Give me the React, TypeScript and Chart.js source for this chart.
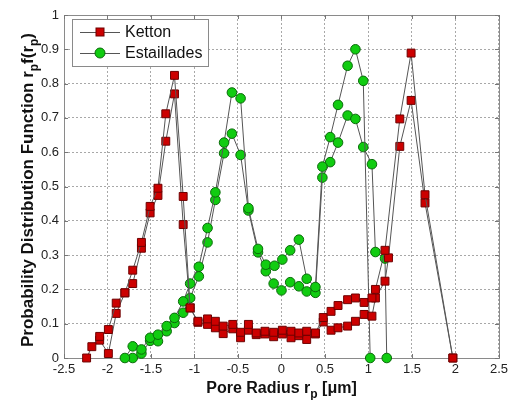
import React, { useEffect, useRef } from "react";
import { Chart, registerables } from "chart.js";

Chart.register(...registerables);

const xTickValues = [-2.5, -2, -1.5, -1, -0.5, 0, 0.5, 1, 1.5, 2, 2.5];
const yTickValues = [0, 0.1, 0.2, 0.3, 0.4, 0.5, 0.6, 0.7, 0.8, 0.9, 1];

const seriesNames = ["Ketton", "Estaillades"];

const kettonRun1X = [-2.24, -2.18, -2.09, -1.99, -1.9, -1.8, -1.71, -1.61, -1.51, -1.42, -1.33, -1.23, -1.13, -1.05, -0.96, -0.85, -0.76, -0.67, -0.56, -0.47, -0.38, -0.29, -0.19, -0.09, 0.01, 0.11, 0.2, 0.29, 0.39, 0.48, 0.57, 0.65, 0.76, 0.85, 0.95, 1.04, 1.08, 1.19, 1.36, 1.49, 1.65, 1.97];
const kettonRun1Y = [0, 0.033, 0.063, 0.083, 0.16, 0.19, 0.256, 0.337, 0.442, 0.495, 0.712, 0.824, 0.471, 0.146, 0.107, 0.114, 0.107, 0.093, 0.098, 0.075, 0.098, 0.073, 0.078, 0.075, 0.081, 0.078, 0.073, 0.078, 0.073, 0.118, 0.136, 0.153, 0.17, 0.175, 0.162, 0.175, 0.2, 0.314, 0.697, 0.889, 0.476, 0];

const kettonRun2X = [-2.09, -1.99, -1.9, -1.8, -1.71, -1.61, -1.51, -1.42, -1.33, -1.23, -1.13, -1.05, -0.96, -0.85, -0.76, -0.67, -0.56, -0.47, -0.38, -0.29, -0.19, -0.09, 0.01, 0.11, 0.2, 0.29, 0.39, 0.48, 0.57, 0.65, 0.76, 0.85, 0.95, 1.04, 1.08, 1.19, 1.23, 1.36, 1.49, 1.65, 1.97];
const kettonRun2Y = [0.052, 0.013, 0.13, 0.19, 0.217, 0.32, 0.423, 0.474, 0.632, 0.77, 0.389, 0.146, 0.104, 0.098, 0.088, 0.071, 0.085, 0.059, 0.081, 0.068, 0.07, 0.062, 0.07, 0.059, 0.065, 0.054, 0.07, 0.105, 0.081, 0.088, 0.093, 0.107, 0.127, 0.122, 0.175, 0.224, 0.292, 0.617, 0.751, 0.452, 0];

const estailladesRun1X = [-1.8, -1.71, -1.61, -1.51, -1.42, -1.32, -1.23, -1.13, -1.05, -0.95, -0.85, -0.76, -0.66, -0.57, -0.47, -0.38, -0.27, -0.18, -0.08, 0.01, 0.1, 0.2, 0.29, 0.39, 0.47, 0.56, 0.65, 0.76, 0.85, 0.94, 1.02];
const estailladesRun1Y = [0, 0.034, 0.025, 0.059, 0.068, 0.093, 0.117, 0.165, 0.217, 0.266, 0.379, 0.483, 0.628, 0.774, 0.757, 0.437, 0.318, 0.272, 0.269, 0.287, 0.314, 0.345, 0.231, 0.207, 0.558, 0.644, 0.738, 0.852, 0.9, 0.808, 0];

const estailladesRun2X = [-1.71, -1.61, -1.51, -1.42, -1.32, -1.23, -1.13, -1.05, -0.95, -0.85, -0.76, -0.66, -0.57, -0.47, -0.38, -0.27, -0.18, -0.09, 0.0, 0.1, 0.2, 0.29, 0.39, 0.47, 0.56, 0.65, 0.76, 0.85, 0.94, 1.04, 1.08, 1.19, 1.21];
const estailladesRun2Y = [0, 0.013, 0.05, 0.049, 0.078, 0.102, 0.132, 0.175, 0.238, 0.337, 0.461, 0.597, 0.654, 0.592, 0.43, 0.308, 0.253, 0.217, 0.197, 0.221, 0.209, 0.194, 0.19, 0.526, 0.571, 0.628, 0.707, 0.697, 0.615, 0.565, 0.309, 0.29, 0];

const FONT = '"Liberation Sans", Arial, Helvetica, sans-serif';

const KET_FILL = "#cc0000";
const KET_EDGE = "#6e0000";
const EST_FILL = "#11cc11";
const EST_EDGE = "#0a6a0a";
const LINE = "#555555";

function pts(xs: number[], ys: number[]) {
  return xs.map((x, i) => ({ x, y: ys[i] }));
}

type Part = { t: string; sub?: boolean };

function drawRich(ctx: CanvasRenderingContext2D, parts: Part[], x: number, y: number, size: number) {
  const base = `bold ${size}px ${FONT}`;
  const subSize = Math.round(size * 0.72);
  const sub = `bold ${subSize}px ${FONT}`;
  let total = 0;
  for (const p of parts) {
    ctx.font = p.sub ? sub : base;
    total += ctx.measureText(p.t).width;
  }
  let cx = x - total / 2;
  ctx.textAlign = "left";
  ctx.textBaseline = "alphabetic";
  for (const p of parts) {
    ctx.font = p.sub ? sub : base;
    ctx.fillText(p.t, cx, y + (p.sub ? size * 0.3 : 0));
    cx += ctx.measureText(p.t).width;
  }
}

const framePlugin = {
  id: "frame",
  beforeDatasetsDraw(chart: any) {
    const { ctx, chartArea: a, scales } = chart;
    ctx.save();
    ctx.strokeStyle = "#8a8a8a";
    ctx.lineWidth = 1;
    ctx.strokeRect(Math.round(a.left) + 0.5, Math.round(a.top) + 0.5, Math.round(a.right - a.left), Math.round(a.bottom - a.top));
    ctx.strokeStyle = "#777";
    ctx.beginPath();
    for (const v of xTickValues) {
      const px = Math.round(scales.x.getPixelForValue(v)) + 0.5;
      ctx.moveTo(px, a.bottom);
      ctx.lineTo(px, a.bottom - 4);
      ctx.moveTo(px, a.top);
      ctx.lineTo(px, a.top + 4);
    }
    for (const v of yTickValues) {
      const py = Math.round(scales.y.getPixelForValue(v)) + 0.5;
      ctx.moveTo(a.left, py);
      ctx.lineTo(a.left + 4, py);
      ctx.moveTo(a.right, py);
      ctx.lineTo(a.right - 4, py);
    }
    ctx.stroke();
    ctx.restore();
  },
  afterDatasetsDraw(chart: any) {
    const { ctx } = chart;
    ctx.save();
    const bx = 72, by = 19, bw = 136, bh = 47;
    ctx.fillStyle = "#ffffff";
    ctx.fillRect(bx, by, bw, bh);
    ctx.strokeStyle = "#8a8a8a";
    ctx.lineWidth = 1;
    ctx.strokeRect(bx + 0.5, by + 0.5, bw, bh);
    const rows = [
      { name: seriesNames[0], y: 32, kind: "rect" },
      { name: seriesNames[1], y: 53, kind: "circle" },
    ];
    for (const r of rows) {
      ctx.strokeStyle = LINE;
      ctx.lineWidth = 1;
      ctx.beginPath();
      ctx.moveTo(80, r.y + 0.5);
      ctx.lineTo(120, r.y + 0.5);
      ctx.stroke();
      if (r.kind === "rect") {
        ctx.fillStyle = KET_FILL;
        ctx.strokeStyle = KET_EDGE;
        ctx.fillRect(96, r.y - 4, 8, 8);
        ctx.strokeRect(96, r.y - 4, 8, 8);
      } else {
        ctx.fillStyle = EST_FILL;
        ctx.strokeStyle = EST_EDGE;
        ctx.beginPath();
        ctx.arc(100, r.y, 5, 0, Math.PI * 2);
        ctx.fill();
        ctx.stroke();
      }
      ctx.fillStyle = "#111";
      ctx.font = `16px ${FONT}`;
      ctx.textAlign = "left";
      ctx.textBaseline = "middle";
      ctx.fillText(r.name, 125, r.y + 1);
    }
    ctx.restore();
  },
  afterDraw(chart: any) {
    const { ctx, chartArea: a } = chart;
    ctx.save();
    ctx.fillStyle = "#111";
    drawRich(ctx, [{ t: "Pore Radius r" }, { t: "p", sub: true }, { t: " [μm]" }], (a.left + a.right) / 2, 393, 16);
    ctx.translate(33, 190);
    ctx.rotate(-Math.PI / 2);
    drawRich(
      ctx,
      [
        { t: "Probability Distribution Function r" },
        { t: "p", sub: true },
        { t: "f(r" },
        { t: "p", sub: true },
        { t: ")" },
      ],
      0,
      0,
      17
    );
    ctx.restore();
  },
};

export default function App() {
  const ref = useRef<HTMLCanvasElement | null>(null);

  useEffect(() => {
    if (!ref.current) return;
    const common = {
      showLine: true,
      borderColor: LINE,
      borderWidth: 1,
      pointBorderWidth: 1,
      clip: false as any,
      tension: 0,
    };
    const chart = new Chart(ref.current, {
      type: "scatter",
      data: {
        datasets: [
          { ...common, label: seriesNames[0], data: pts(kettonRun1X, kettonRun1Y), pointStyle: "rect", pointRadius: 5.6, pointBackgroundColor: KET_FILL, pointBorderColor: KET_EDGE, order: 1 },
          { ...common, label: seriesNames[0] + " 2", data: pts(kettonRun2X, kettonRun2Y), pointStyle: "rect", pointRadius: 5.6, pointBackgroundColor: KET_FILL, pointBorderColor: KET_EDGE, order: 1 },
          { ...common, label: seriesNames[1], data: pts(estailladesRun1X, estailladesRun1Y), pointStyle: "circle", pointRadius: 4.8, pointBackgroundColor: EST_FILL, pointBorderColor: EST_EDGE, order: 2 },
          { ...common, label: seriesNames[1] + " 2", data: pts(estailladesRun2X, estailladesRun2Y), pointStyle: "circle", pointRadius: 4.8, pointBackgroundColor: EST_FILL, pointBorderColor: EST_EDGE, order: 2 },
        ],
      },
      options: {
        responsive: false,
        animation: false,
        events: [],
        layout: { padding: { top: 15, right: 11, left: 0, bottom: 0 } },
        plugins: { legend: { display: false }, tooltip: { enabled: false }, title: { display: false } },
        scales: {
          x: {
            type: "linear",
            min: -2.5,
            max: 2.5,
            afterFit: (s: any) => {
              s.height = 42;
            },
            afterBuildTicks: (s: any) => {
              s.ticks = xTickValues.map((v) => ({ value: v }));
            },
            ticks: {
              font: { family: FONT, size: 13 },
              color: "#222",
              padding: 4,
              maxRotation: 0,
              autoSkip: false,
              callback: (v: any) => String(Number(Number(v).toFixed(1))),
            },
            grid: { color: "#a8a8a8", drawTicks: false, lineWidth: 1 },
            border: { display: false, dash: [2, 2] },
          },
          y: {
            type: "linear",
            min: 0,
            max: 1,
            afterFit: (s: any) => {
              s.width = 64;
            },
            afterBuildTicks: (s: any) => {
              s.ticks = yTickValues.map((v) => ({ value: v }));
            },
            ticks: {
              font: { family: FONT, size: 13 },
              color: "#222",
              padding: 5,
              autoSkip: false,
              callback: (v: any) => String(Number(Number(v).toFixed(1))),
            },
            grid: { color: "#a8a8a8", drawTicks: false, lineWidth: 1 },
            border: { display: false, dash: [2, 2] },
          },
        },
      },
      plugins: [framePlugin],
    } as any);
    return () => chart.destroy();
  }, []);

  return (
    <div style={{ position: "absolute", left: 0, top: 0, width: 512, height: 400, background: "#fff" }}>
      <canvas ref={ref} width={512} height={400} style={{ display: "block" }} />
    </div>
  );
}
